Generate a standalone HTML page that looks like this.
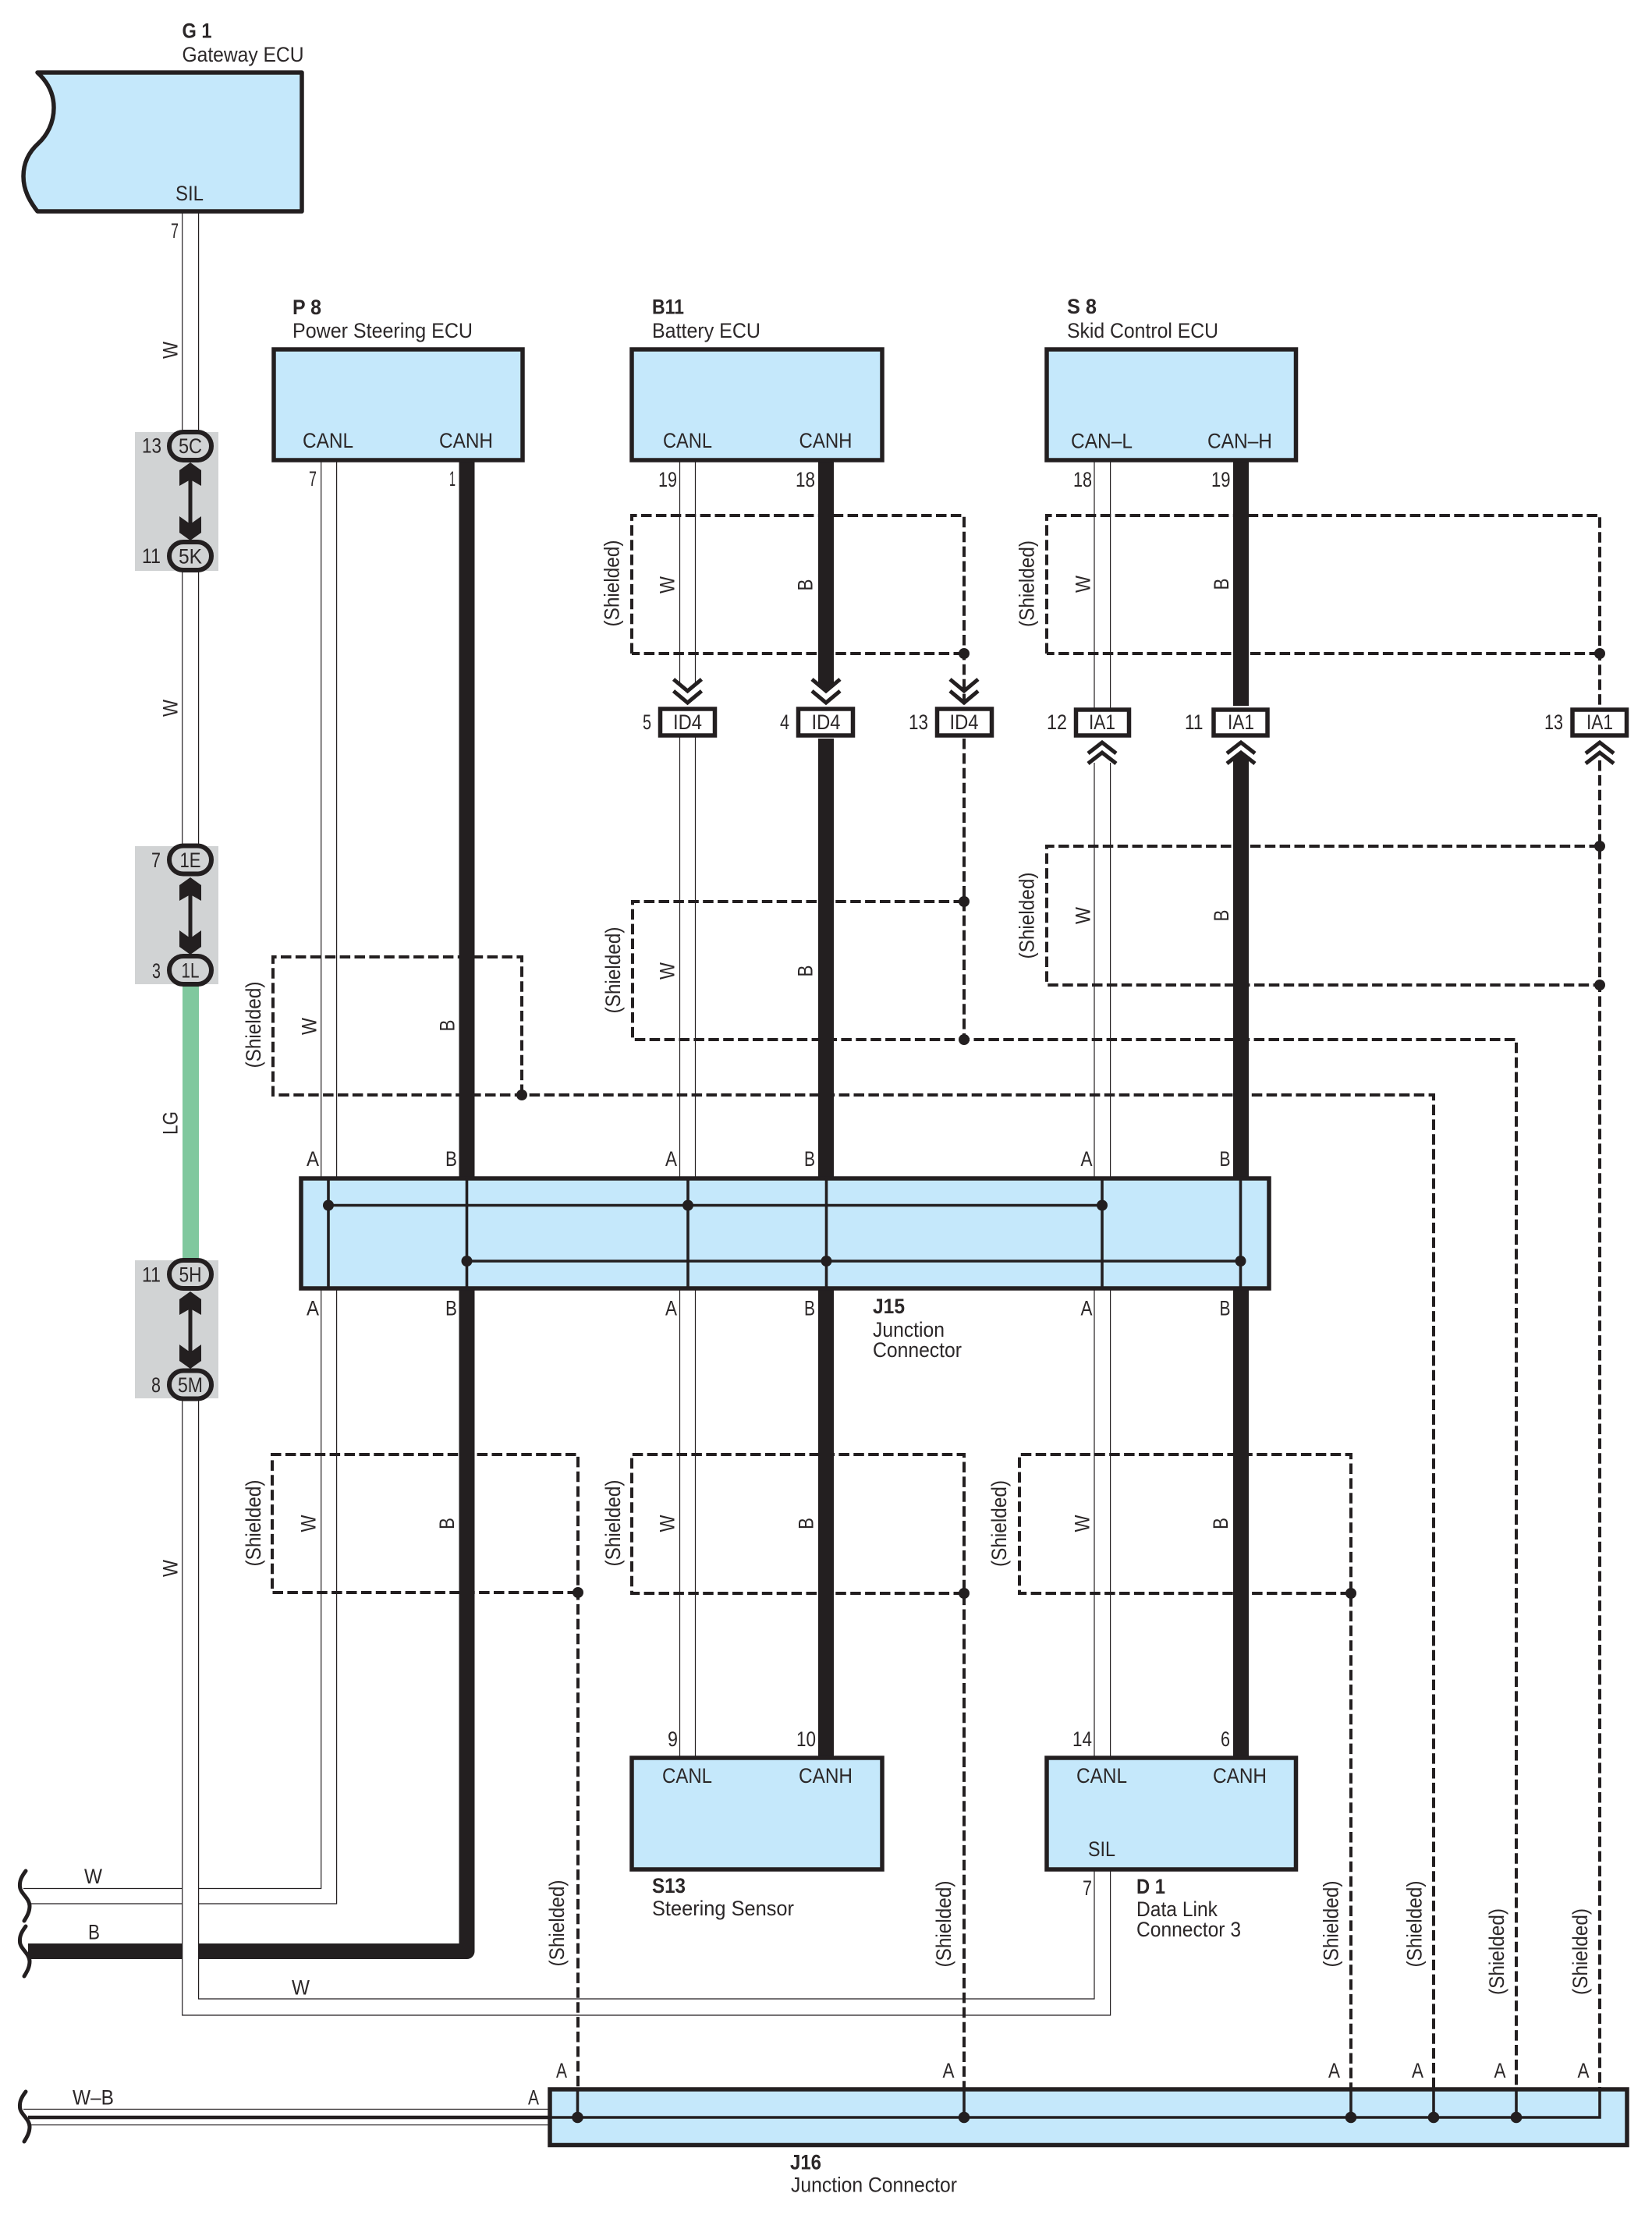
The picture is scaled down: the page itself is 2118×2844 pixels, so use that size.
<!DOCTYPE html>
<html lang="en">
<head>
<meta charset="utf-8">
<title>Wiring diagram</title>
<style>
html,body{margin:0;padding:0;background:#fff}
svg{display:block}
text{font-family:"Liberation Sans",Arial,sans-serif;font-size:27px;fill:#2b2728}
.b{font-weight:bold}
.box{fill:#c5e8fb;stroke:#231f20;stroke-width:5.5;stroke-linejoin:miter}
.w{fill:none;stroke:#231f20;stroke-width:1.2}
.t{fill:none;stroke:#231f20;stroke-width:20;stroke-linejoin:round}
.d{fill:none;stroke:#231f20;stroke-width:4;stroke-dasharray:13.5 5.4}
.s{fill:none;stroke:#231f20;stroke-width:3.6}
.c{fill:none;stroke:#231f20;stroke-width:5}
.o{fill:#d1d3d4;stroke:#231f20;stroke-width:6}
.i{fill:#fff;stroke:#231f20;stroke-width:5.5}
.f{fill:#231f20}
.g{fill:#d1d3d4}
</style>
</head>
<body>
<svg xmlns="http://www.w3.org/2000/svg" width="2118" height="2844" viewBox="0 0 2118 2844">
<rect width="2118" height="2844" fill="#fff"/>

<!-- gray splice areas -->
<rect class="g" x="173" y="554" width="107" height="178"/>
<rect class="g" x="173" y="1085" width="107" height="177"/>
<rect class="g" x="173" y="1616" width="107" height="177"/>

<!-- dashed shields (below wires) -->
<g class="d">
<path d="M810 838V661H1236V905"/>
<path d="M1236 838H810"/>
<path d="M1342 838V661H2051V908"/>
<path d="M2051 838H1342"/>
<path d="M2051 975V2679"/>
<path d="M2051 1085H1342V1263H2051"/>
<path d="M1236 947V1333"/>
<path d="M1236 1156H811V1333H1236H1944V2679"/>
<path d="M669 1404V1227H350V1404H669H1838V2679"/>
<path d="M741 2042H349V1865H741V2679"/>
<path d="M1236 2043H810V1865H1236V2679"/>
<path d="M1732 2043H1307V1865H1732V2679"/>
</g>

<!-- thin wires -->
<g class="w">
<path d="M411.7 590V1511M431.6 590V1511"/>
<path d="M411.7 1652V2421.5H30M431.6 1652V2441H39"/>
<path d="M871.5 590V875M891.5 590V875M871.5 945V1511M891.5 945V1511M871.5 1652V2254M891.5 1652V2254"/>
<path d="M1403 590V908M1423.6 590V908M1403 978V1511M1423.6 978V1511M1403 1652V2254M1423.6 1652V2254"/>
<path d="M30 2704.5H705M39 2724.7H705"/>
</g>

<!-- thick wires -->
<g class="t">
<path d="M598.5 590V1511"/>
<path d="M598.5 1652V2502H36"/>
<path d="M1059 590V880M1059 947V1511M1059 1652V2254"/>
<path d="M1591 590V905M1591 972V1511M1591 1652V2254"/>
</g>
<path class="f" d="M1049 878L1059 889L1069 878Z"/>
<path class="f" d="M1581 974L1591 964L1601 974Z"/>

<!-- gateway wire, white band over others (vertical only) -->
<path d="M244 271V552M244 733V1085M244 1793V2584" fill="none" stroke="#fff" stroke-width="20"/>
<g class="w">
<path d="M233.7 271V552M254.6 271V552M233.7 733V1085M254.6 733V1085"/>
<path d="M233.7 1793V2584H1423.6V2397M254.6 1793V2563H1403V2397"/>
</g>
<rect x="234" y="1255" width="21" height="362" fill="#80c89e"/>

<!-- G1 -->
<path class="box" style="stroke-linejoin:round" d="M48 93H387V271H48C38 258 30 244 30 226C30 208 38 194 49 184C60 174 69 158 69 138C69 118 60 104 48 93Z"/>

<!-- ECU boxes -->
<rect class="box" x="351" y="448" width="319" height="142"/>
<rect class="box" x="810" y="448" width="321" height="142"/>
<rect class="box" x="1342" y="448" width="319.5" height="142"/>
<rect class="box" x="810" y="2254" width="321" height="143"/>
<rect class="box" x="1342" y="2254" width="319.5" height="143"/>

<!-- J15 -->
<rect class="box" x="386" y="1511" width="1241" height="141"/>
<g class="s">
<path d="M421 1511V1652M598.5 1511V1652M882 1511V1652M1059.5 1511V1652M1413 1511V1652M1590.5 1511V1652"/>
<path d="M421 1545.5H1413M598.5 1617H1590.5"/>
</g>
<g class="f">
<circle cx="421" cy="1545.5" r="7"/><circle cx="882" cy="1545.5" r="7"/><circle cx="1413" cy="1545.5" r="7"/>
<circle cx="598.5" cy="1617" r="7"/><circle cx="1059.5" cy="1617" r="7"/><circle cx="1590.5" cy="1617" r="7"/>
</g>

<!-- J16 -->
<rect class="box" x="705" y="2679" width="1381" height="71.5"/>
<path d="M36 2715H705" fill="none" stroke="#231f20" stroke-width="4.5"/>
<g class="s">
<path d="M705 2715H2051V2679M740.5 2679V2715M1236 2679V2715M1732 2679V2715M1838 2679V2715M1944 2679V2715"/>
</g>
<g class="f">
<circle cx="740.5" cy="2715" r="7.3"/><circle cx="1236" cy="2715" r="7.3"/><circle cx="1732" cy="2715" r="7.3"/>
<circle cx="1838" cy="2715" r="7.3"/><circle cx="1944" cy="2715" r="7.3"/>
</g>

<!-- shield dots -->
<g class="f">
<circle cx="1236" cy="838" r="7"/><circle cx="2051" cy="838" r="7"/>
<circle cx="2051" cy="1085" r="7"/><circle cx="2051" cy="1263" r="7"/>
<circle cx="1236" cy="1156" r="7"/><circle cx="1236" cy="1333" r="7"/>
<circle cx="669" cy="1404" r="7"/>
<circle cx="741" cy="2042" r="7"/><circle cx="1236" cy="2043" r="7"/><circle cx="1732" cy="2043" r="7"/>
</g>

<!-- breaks -->
<g fill="none" stroke="#231f20" stroke-width="5" stroke-linecap="round">
<path d="M33 2399C27 2407 25 2412 25.5 2419C26 2428 38 2434 38 2444C38 2452 34 2458 31 2463"/>
<path d="M33 2470C27 2478 25 2483 25.5 2490C26 2499 38 2505 38 2515C38 2523 34 2529 31 2534"/>
<path d="M33 2682C27 2690 25 2695 25.5 2702C26 2711 38 2717 38 2727C38 2735 34 2741 31 2746"/>
</g>

<!-- splice connectors -->
<g class="f">
<rect x="241.5" y="600" width="5" height="80"/>
<path d="M244 593L258 603V623L244 615L230 623V603Z"/>
<path d="M244 693L258 683V662L244 672L230 662V683Z"/>
<rect x="241.5" y="1130" width="5" height="85"/>
<path d="M244 1125L258 1135V1155L244 1147L230 1155V1135Z"/>
<path d="M244 1224L258 1214V1193L244 1203L230 1193V1214Z"/>
<rect x="241.5" y="1660" width="5" height="85"/>
<path d="M244 1656L258 1666V1686L244 1678L230 1686V1666Z"/>
<path d="M244 1755L258 1745V1724L244 1734L230 1724V1745Z"/>
</g>
<g class="o">
<rect x="217" y="554" width="54" height="36" rx="18"/>
<rect x="217" y="695" width="54" height="36" rx="18"/>
<rect x="217" y="1084.5" width="54" height="36" rx="18"/>
<rect x="217" y="1226" width="54" height="36" rx="18"/>
<rect x="217" y="1616" width="54" height="36" rx="18"/>
<rect x="217" y="1757.5" width="54" height="36" rx="18"/>
</g>

<!-- inline connectors -->
<g class="i">
<rect x="846.5" y="909" width="70" height="34"/>
<rect x="1023.5" y="909" width="70" height="34"/>
<rect x="1201.5" y="909" width="70" height="34"/>
<rect x="1379.5" y="910" width="68" height="33"/>
<rect x="1556" y="910" width="69" height="33"/>
<rect x="2016" y="910" width="69.5" height="33"/>
</g>
<g class="c">
<path d="M863.5 871L881.5 886L899.5 871M863.5 886L881.5 901L899.5 886"/>
<path d="M1041 871L1059 886L1077 871M1041 886L1059 901L1077 886"/>
<path d="M1218 871L1236 886L1254 871M1218 886L1236 901L1254 886"/>
<path d="M1395 966L1413 952L1431 966M1395 979L1413 965L1431 979"/>
<path d="M1573 966L1591 952L1609 966M1573 979L1591 965L1609 979"/>
<path d="M2033 966L2051 952L2069 966M2033 979L2051 965L2069 979"/>
</g>

<!-- component titles -->
<text class="b" x="233.5" y="48.5" textLength="38" lengthAdjust="spacingAndGlyphs">G 1</text>
<text x="233.5" y="79" textLength="156" lengthAdjust="spacingAndGlyphs">Gateway ECU</text>
<text class="b" x="375" y="403" textLength="37" lengthAdjust="spacingAndGlyphs">P 8</text>
<text x="375" y="433" textLength="231" lengthAdjust="spacingAndGlyphs">Power Steering ECU</text>
<text class="b" x="836" y="402.5" textLength="41" lengthAdjust="spacingAndGlyphs">B11</text>
<text x="836" y="433" textLength="139" lengthAdjust="spacingAndGlyphs">Battery ECU</text>
<text class="b" x="1368" y="402" textLength="38" lengthAdjust="spacingAndGlyphs">S 8</text>
<text x="1368" y="433" textLength="194" lengthAdjust="spacingAndGlyphs">Skid Control ECU</text>
<text class="b" x="836" y="2427" textLength="43" lengthAdjust="spacingAndGlyphs">S13</text>
<text x="836" y="2456" textLength="182" lengthAdjust="spacingAndGlyphs">Steering Sensor</text>
<text class="b" x="1457" y="2428" textLength="37" lengthAdjust="spacingAndGlyphs">D 1</text>
<text x="1457" y="2457" textLength="104" lengthAdjust="spacingAndGlyphs">Data Link</text>
<text x="1457" y="2483" textLength="134" lengthAdjust="spacingAndGlyphs">Connector 3</text>
<text class="b" x="1119" y="1684" textLength="41" lengthAdjust="spacingAndGlyphs">J15</text>
<text x="1119" y="1714" textLength="92" lengthAdjust="spacingAndGlyphs">Junction</text>
<text x="1119" y="1740" textLength="114" lengthAdjust="spacingAndGlyphs">Connector</text>
<text class="b" x="1013" y="2781.5" textLength="40" lengthAdjust="spacingAndGlyphs">J16</text>
<text x="1014" y="2810.5" textLength="213" lengthAdjust="spacingAndGlyphs">Junction Connector</text>

<!-- pin names -->
<text x="225" y="257" textLength="36" lengthAdjust="spacingAndGlyphs">SIL</text>
<text x="388" y="574" textLength="65" lengthAdjust="spacingAndGlyphs">CANL</text>
<text x="563" y="574" textLength="69" lengthAdjust="spacingAndGlyphs">CANH</text>
<text x="850" y="574" textLength="63" lengthAdjust="spacingAndGlyphs">CANL</text>
<text x="1024.5" y="574" textLength="68" lengthAdjust="spacingAndGlyphs">CANH</text>
<text x="1373" y="574.5" textLength="79" lengthAdjust="spacingAndGlyphs">CAN–L</text>
<text x="1548" y="574.5" textLength="83" lengthAdjust="spacingAndGlyphs">CAN–H</text>
<text x="849" y="2286" textLength="64" lengthAdjust="spacingAndGlyphs">CANL</text>
<text x="1024" y="2286" textLength="69" lengthAdjust="spacingAndGlyphs">CANH</text>
<text x="1380" y="2286" textLength="65" lengthAdjust="spacingAndGlyphs">CANL</text>
<text x="1555" y="2286" textLength="69" lengthAdjust="spacingAndGlyphs">CANH</text>
<text x="1395" y="2380" textLength="35" lengthAdjust="spacingAndGlyphs">SIL</text>

<!-- pin numbers -->
<g>
<text x="219" y="305" textLength="10" lengthAdjust="spacingAndGlyphs">7</text>
<text x="396" y="623" textLength="10" lengthAdjust="spacingAndGlyphs">7</text>
<text x="576" y="623" textLength="8" lengthAdjust="spacingAndGlyphs">1</text>
<text x="844" y="624" textLength="24" lengthAdjust="spacingAndGlyphs">19</text>
<text x="1020" y="624" textLength="25" lengthAdjust="spacingAndGlyphs">18</text>
<text x="1376" y="624" textLength="24" lengthAdjust="spacingAndGlyphs">18</text>
<text x="1553" y="624" textLength="24.5" lengthAdjust="spacingAndGlyphs">19</text>
<text x="824" y="935" textLength="11" lengthAdjust="spacingAndGlyphs">5</text>
<text x="1000" y="935" textLength="12" lengthAdjust="spacingAndGlyphs">4</text>
<text x="1165" y="935" textLength="25" lengthAdjust="spacingAndGlyphs">13</text>
<text x="1342" y="935" textLength="26" lengthAdjust="spacingAndGlyphs">12</text>
<text x="1519" y="935" textLength="23.5" lengthAdjust="spacingAndGlyphs">11</text>
<text x="1980" y="935" textLength="24" lengthAdjust="spacingAndGlyphs">13</text>
<text x="856" y="2239" textLength="13" lengthAdjust="spacingAndGlyphs">9</text>
<text x="1021" y="2239" textLength="25" lengthAdjust="spacingAndGlyphs">10</text>
<text x="1375" y="2239" textLength="25" lengthAdjust="spacingAndGlyphs">14</text>
<text x="1565" y="2239" textLength="12" lengthAdjust="spacingAndGlyphs">6</text>
<text x="1388" y="2430" textLength="12" lengthAdjust="spacingAndGlyphs">7</text>
<text x="182" y="580.5" textLength="25" lengthAdjust="spacingAndGlyphs">13</text>
<text x="182" y="722" textLength="24" lengthAdjust="spacingAndGlyphs">11</text>
<text x="194" y="1112" textLength="12" lengthAdjust="spacingAndGlyphs">7</text>
<text x="195" y="1254" textLength="11" lengthAdjust="spacingAndGlyphs">3</text>
<text x="182" y="1643.5" textLength="24" lengthAdjust="spacingAndGlyphs">11</text>
<text x="194" y="1785" textLength="12" lengthAdjust="spacingAndGlyphs">8</text>
</g>

<!-- oval labels -->
<g text-anchor="middle">
<text x="244" y="581" textLength="30" lengthAdjust="spacingAndGlyphs">5C</text>
<text x="244" y="722.5" textLength="30" lengthAdjust="spacingAndGlyphs">5K</text>
<text x="244" y="1112" textLength="27" lengthAdjust="spacingAndGlyphs">1E</text>
<text x="244" y="1253.5" textLength="23" lengthAdjust="spacingAndGlyphs">1L</text>
<text x="244" y="1643.5" textLength="29" lengthAdjust="spacingAndGlyphs">5H</text>
<text x="244" y="1785" textLength="32" lengthAdjust="spacingAndGlyphs">5M</text>
<text x="881.5" y="935" textLength="37" lengthAdjust="spacingAndGlyphs">ID4</text>
<text x="1059" y="935" textLength="37" lengthAdjust="spacingAndGlyphs">ID4</text>
<text x="1236" y="935" textLength="37" lengthAdjust="spacingAndGlyphs">ID4</text>
<text x="1413" y="935" textLength="34" lengthAdjust="spacingAndGlyphs">IA1</text>
<text x="1591" y="935" textLength="34" lengthAdjust="spacingAndGlyphs">IA1</text>
<text x="2051" y="935" textLength="34" lengthAdjust="spacingAndGlyphs">IA1</text>
</g>

<!-- A/B pin letters -->
<g>
<text x="393" y="1495" textLength="16" lengthAdjust="spacingAndGlyphs">A</text>
<text x="571" y="1495" textLength="15" lengthAdjust="spacingAndGlyphs">B</text>
<text x="853" y="1495" textLength="15" lengthAdjust="spacingAndGlyphs">A</text>
<text x="1031" y="1495" textLength="14" lengthAdjust="spacingAndGlyphs">B</text>
<text x="1385.5" y="1495" textLength="15" lengthAdjust="spacingAndGlyphs">A</text>
<text x="1563.5" y="1495" textLength="14" lengthAdjust="spacingAndGlyphs">B</text>
<text x="393" y="1686.5" textLength="16" lengthAdjust="spacingAndGlyphs">A</text>
<text x="571" y="1686.5" textLength="15" lengthAdjust="spacingAndGlyphs">B</text>
<text x="853" y="1686.5" textLength="15" lengthAdjust="spacingAndGlyphs">A</text>
<text x="1031" y="1686.5" textLength="14" lengthAdjust="spacingAndGlyphs">B</text>
<text x="1385.5" y="1686.5" textLength="15" lengthAdjust="spacingAndGlyphs">A</text>
<text x="1563.5" y="1686.5" textLength="14" lengthAdjust="spacingAndGlyphs">B</text>
<text x="677" y="2698.5" textLength="14" lengthAdjust="spacingAndGlyphs">A</text>
<text x="713" y="2664" textLength="14" lengthAdjust="spacingAndGlyphs">A</text>
<text x="1208.5" y="2664" textLength="15" lengthAdjust="spacingAndGlyphs">A</text>
<text x="1703" y="2664" textLength="15" lengthAdjust="spacingAndGlyphs">A</text>
<text x="1810" y="2664" textLength="15" lengthAdjust="spacingAndGlyphs">A</text>
<text x="1915.5" y="2664" textLength="15" lengthAdjust="spacingAndGlyphs">A</text>
<text x="2022.5" y="2664" textLength="15" lengthAdjust="spacingAndGlyphs">A</text>
<text x="108" y="2415" textLength="23" lengthAdjust="spacingAndGlyphs">W</text>
<text x="113" y="2486.5" textLength="15" lengthAdjust="spacingAndGlyphs">B</text>
<text x="374" y="2557.5" textLength="23" lengthAdjust="spacingAndGlyphs">W</text>
<text x="93" y="2698.5" textLength="53" lengthAdjust="spacingAndGlyphs">W–B</text>
</g>

<!-- rotated labels -->
<g text-anchor="middle">
<text transform="translate(227.5 449) rotate(-90)" textLength="22" lengthAdjust="spacingAndGlyphs">W</text>
<text transform="translate(227.5 908) rotate(-90)" textLength="22" lengthAdjust="spacingAndGlyphs">W</text>
<text transform="translate(227.5 2011) rotate(-90)" textLength="22" lengthAdjust="spacingAndGlyphs">W</text>
<text transform="translate(227.5 1440) rotate(-90)" textLength="30" lengthAdjust="spacingAndGlyphs">LG</text>
<text transform="translate(864.5 750) rotate(-90)" textLength="22" lengthAdjust="spacingAndGlyphs">W</text>
<text transform="translate(1397.5 749) rotate(-90)" textLength="22" lengthAdjust="spacingAndGlyphs">W</text>
<text transform="translate(864.5 1245) rotate(-90)" textLength="22" lengthAdjust="spacingAndGlyphs">W</text>
<text transform="translate(1397.5 1174) rotate(-90)" textLength="22" lengthAdjust="spacingAndGlyphs">W</text>
<text transform="translate(405.5 1316) rotate(-90)" textLength="22" lengthAdjust="spacingAndGlyphs">W</text>
<text transform="translate(404.5 1953.5) rotate(-90)" textLength="22" lengthAdjust="spacingAndGlyphs">W</text>
<text transform="translate(864.5 1953.5) rotate(-90)" textLength="22" lengthAdjust="spacingAndGlyphs">W</text>
<text transform="translate(1396.5 1953.5) rotate(-90)" textLength="22" lengthAdjust="spacingAndGlyphs">W</text>
<text transform="translate(1041.5 750) rotate(-90)" textLength="15" lengthAdjust="spacingAndGlyphs">B</text>
<text transform="translate(1575 749) rotate(-90)" textLength="15" lengthAdjust="spacingAndGlyphs">B</text>
<text transform="translate(1041.5 1245) rotate(-90)" textLength="15" lengthAdjust="spacingAndGlyphs">B</text>
<text transform="translate(1575 1174) rotate(-90)" textLength="15" lengthAdjust="spacingAndGlyphs">B</text>
<text transform="translate(582.5 1315) rotate(-90)" textLength="15" lengthAdjust="spacingAndGlyphs">B</text>
<text transform="translate(582 1953.5) rotate(-90)" textLength="15" lengthAdjust="spacingAndGlyphs">B</text>
<text transform="translate(1042.5 1953.5) rotate(-90)" textLength="15" lengthAdjust="spacingAndGlyphs">B</text>
<text transform="translate(1574 1953.5) rotate(-90)" textLength="15" lengthAdjust="spacingAndGlyphs">B</text>
<text transform="translate(793.5 748) rotate(-90)" textLength="111" lengthAdjust="spacingAndGlyphs">(Shielded)</text>
<text transform="translate(1325.5 748.5) rotate(-90)" textLength="111" lengthAdjust="spacingAndGlyphs">(Shielded)</text>
<text transform="translate(795 1244) rotate(-90)" textLength="111" lengthAdjust="spacingAndGlyphs">(Shielded)</text>
<text transform="translate(1325.5 1174) rotate(-90)" textLength="111" lengthAdjust="spacingAndGlyphs">(Shielded)</text>
<text transform="translate(334 1314) rotate(-90)" textLength="111" lengthAdjust="spacingAndGlyphs">(Shielded)</text>
<text transform="translate(334 1953) rotate(-90)" textLength="111" lengthAdjust="spacingAndGlyphs">(Shielded)</text>
<text transform="translate(795 1953) rotate(-90)" textLength="111" lengthAdjust="spacingAndGlyphs">(Shielded)</text>
<text transform="translate(1290 1953.5) rotate(-90)" textLength="111" lengthAdjust="spacingAndGlyphs">(Shielded)</text>
<text transform="translate(723 2466) rotate(-90)" textLength="111" lengthAdjust="spacingAndGlyphs">(Shielded)</text>
<text transform="translate(1219 2467) rotate(-90)" textLength="111" lengthAdjust="spacingAndGlyphs">(Shielded)</text>
<text transform="translate(1715.5 2467) rotate(-90)" textLength="111" lengthAdjust="spacingAndGlyphs">(Shielded)</text>
<text transform="translate(1822.5 2467) rotate(-90)" textLength="111" lengthAdjust="spacingAndGlyphs">(Shielded)</text>
<text transform="translate(1928 2502.5) rotate(-90)" textLength="111" lengthAdjust="spacingAndGlyphs">(Shielded)</text>
<text transform="translate(2035 2502.5) rotate(-90)" textLength="111" lengthAdjust="spacingAndGlyphs">(Shielded)</text>
</g>
</svg>
</body>
</html>
